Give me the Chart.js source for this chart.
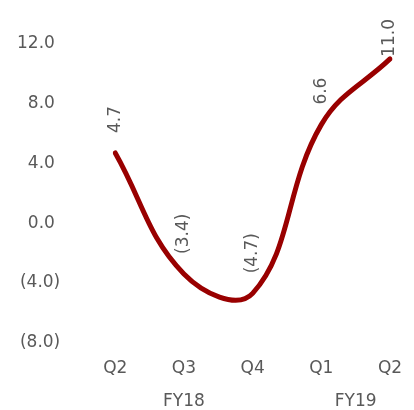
<!DOCTYPE html>
<html>
<head>
<meta charset="utf-8">
<script src="https://cdn.jsdelivr.net/npm/chart.js@4/dist/chart.umd.min.js"></script>
<style>
  html, body { margin: 0; padding: 0; background: #ffffff; }
  #wrap { width: 414px; height: 410px; }
</style>
</head>
<body>
<div id="wrap"><canvas id="chart" width="414" height="410"></canvas></div>
<script>
// Quarter labels along the x axis
const quarters = ['Q2', 'Q3', 'Q4', 'Q1', 'Q2'];
// Fiscal-year groups under the quarters (first and last quarter index of each)
const fiscalYears = ['FY18', 'FY19'];
const fiscalYearSpans = [[0, 2], [3, 4]];
// Growth values per quarter
const growth = [4.7, -3.4, -4.7, 6.6, 11.0];
// Value-axis range and step
const yMin = -8, yMax = 12, yStep = 4;

const textColor = '#595959';
const fontFamily = '"DejaVu Sans", Verdana, sans-serif';
const fontSize = 17;

function fmt(v) {
  const s = Math.abs(v).toFixed(1);
  return v < 0 ? '(' + s + ')' : s;
}

// Rotated value labels above each point
const valueLabels = {
  id: 'valueLabels',
  afterDatasetsDraw(chart) {
    const ctx = chart.ctx;
    const meta = chart.getDatasetMeta(0);
    ctx.save();
    ctx.font = fontSize + 'px ' + fontFamily;
    ctx.fillStyle = textColor;
    ctx.textBaseline = 'middle';
    ctx.textAlign = 'left';
    meta.data.forEach((pt, i) => {
      const txt = fmt(growth[i]);
      const w = ctx.measureText(txt).width;
      let start = pt.y - 20;
      if (start - w < 19) start = 19 + w;
      ctx.save();
      ctx.translate(pt.x, start);
      ctx.rotate(-Math.PI / 2);
      ctx.fillText(txt, 0, 0);
      ctx.restore();
    });
    ctx.restore();
  }
};

// Fiscal-year row centred under its quarters
const yearRow = {
  id: 'yearRow',
  afterDraw(chart) {
    const ctx = chart.ctx;
    const xs = chart.scales.x;
    ctx.save();
    ctx.font = fontSize + 'px ' + fontFamily;
    ctx.fillStyle = textColor;
    ctx.textAlign = 'center';
    ctx.textBaseline = 'middle';
    fiscalYears.forEach((fy, i) => {
      const [a, b] = fiscalYearSpans[i];
      const x = (xs.getPixelForValue(a) + xs.getPixelForValue(b)) / 2;
      ctx.fillText(fy, x, 402);
    });
    ctx.restore();
  }
};

new Chart(document.getElementById('chart'), {
  type: 'line',
  data: {
    labels: quarters,
    datasets: [{
      data: growth,
      borderColor: '#990000',
      borderWidth: 5,
      borderCapStyle: 'round',
      tension: 0.4,
      pointRadius: 0,
      fill: false
    }]
  },
  options: {
    responsive: false,
    animation: false,
    layout: { padding: { top: 44, right: 24, bottom: 23, left: -30 } },
    plugins: { legend: { display: false }, tooltip: { enabled: false } },
    scales: {
      x: {
        offset: false,
        grid: { display: false },
        border: { display: false },
        ticks: {
          color: textColor,
          font: { family: fontFamily, size: fontSize },
          padding: 8,
          maxRotation: 0
        }
      },
      y: {
        min: yMin,
        max: yMax,
        grid: { display: false },
        border: { display: false },
        // the wide label gap is horizontal only; keep the vertical padding small
        afterFit(scale) {
          scale.paddingTop = 0;
          scale.paddingBottom = 0;
        },
        ticks: {
          stepSize: yStep,
          color: textColor,
          font: { family: fontFamily, size: fontSize },
          padding: 47,
          callback: v => v < 0 ? fmt(v) : fmt(v) + ' '
        }
      }
    }
  },
  plugins: [valueLabels, yearRow]
});
</script>
</body>
</html>
